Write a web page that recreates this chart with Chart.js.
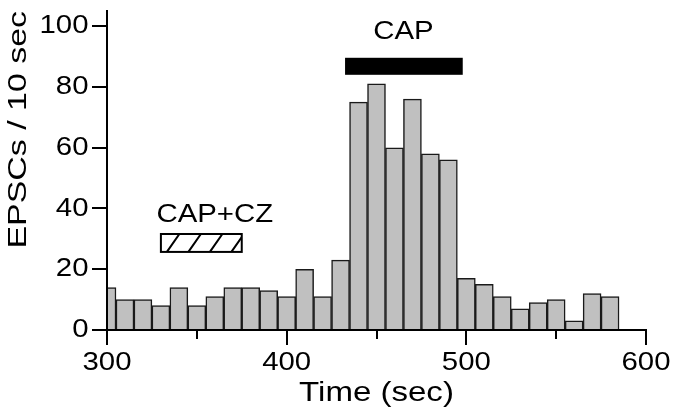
<!DOCTYPE html>
<html><head><meta charset="utf-8">
<script src="https://cdn.jsdelivr.net/npm/chart.js@4.4.1/dist/chart.umd.min.js"></script>
<style>html,body{margin:0;padding:0;background:#fff}canvas{display:block}</style>
</head><body>
<canvas id="c" width="675" height="413"></canvas>
<script>
// ---- data ----
const binCenters = [300,310,320,330,340,350,360,370,380,390,400,410,420,430,440,450,460,470,480,490,500,510,520,530,540,550,560,570,580];
const counts     = [14, 10, 10, 8, 14, 8, 11, 14, 14, 13, 11, 20, 11, 23, 75, 81, 60, 76, 58, 56, 17, 15, 11, 7, 9, 10, 3, 12, 11];
const xTickValues = [300,400,500,600];
const xMinorTickValues = [350,450,550];
const yTickValues = [0,20,40,60,80,100];
const xRange = [300,600];
const yRange = [0,105];
const capRange = [432.5, 498];      // CAP application (sec)
const capBarLevel = [84, 89.6];
const capczRange = [330, 375];      // CAP+CZ application (sec)
const capczBoxLevel = [25.7, 31.6];
const capLabel = {text: 'CAP', x: 465, y: 95.7};
const capczLabel = {text: 'CAP+CZ', x: 360, y: 35.6};

const FONT = "'Liberation Sans', Arial, Helvetica, sans-serif";
const INK = '#000';

// wide text rendering (the reference uses horizontally stretched type)
const canvas = document.getElementById('c');
const ctx = canvas.getContext('2d');
const K_BY_SIZE = {26: 1.13, 28: 1.18, 25.5: 1.33};
function kFor(font){ const m = /([\d.]+)px/.exec(font); return (m && K_BY_SIZE[parseFloat(m[1])]) || 1; }
const origFill = ctx.fillText.bind(ctx);
const origMeasure = ctx.measureText.bind(ctx);
ctx.fillText = function(t, x, y, mw){
  const k = kFor(this.font);
  this.save();
  this.translate(x, y);
  this.scale(k, 1);
  if (mw !== undefined) origFill(t, 0, 0, mw / k); else origFill(t, 0, 0);
  this.restore();
};
ctx.measureText = function(t){
  const m = origMeasure(t);
  const k = kFor(this.font);
  return {width: m.width * k, actualBoundingBoxAscent: m.actualBoundingBoxAscent, actualBoundingBoxDescent: m.actualBoundingBoxDescent,
          actualBoundingBoxLeft: m.actualBoundingBoxLeft * k, actualBoundingBoxRight: m.actualBoundingBoxRight * k,
          fontBoundingBoxAscent: m.fontBoundingBoxAscent, fontBoundingBoxDescent: m.fontBoundingBoxDescent};
};

const marksPlugin = {
  id: 'marks',
  afterDatasetsDraw(chart){
    const c = chart.ctx, x = chart.scales.x, y = chart.scales.y;
    c.save();
    // CAP bar
    let l = x.getPixelForValue(capRange[0]), r = x.getPixelForValue(capRange[1]);
    let t = y.getPixelForValue(capBarLevel[1]), b = y.getPixelForValue(capBarLevel[0]);
    c.fillStyle = INK;
    c.fillRect(l, t, r - l, b - t);
    // CAP+CZ hatched box
    l = x.getPixelForValue(capczRange[0]); r = x.getPixelForValue(capczRange[1]);
    t = y.getPixelForValue(capczBoxLevel[1]); b = y.getPixelForValue(capczBoxLevel[0]);
    c.save();
    c.beginPath(); c.rect(l, t, r - l, b - t); c.clip();
    c.fillStyle = '#fff'; c.fillRect(l, t, r - l, b - t);
    c.strokeStyle = INK; c.lineWidth = 2;
    c.beginPath();
    for (let i = 0; i < 4; i++) {
      const bx = l + 6 + i * 21.5;
      c.moveTo(bx, b); c.lineTo(bx + 12.5, t);
    }
    c.stroke();
    c.restore();
    c.strokeStyle = INK; c.lineWidth = 2;
    c.strokeRect(l, t, r - l, b - t);
    // labels
    c.fillStyle = INK;
    c.font = '26px ' + FONT;
    c.textAlign = 'center';
    c.textBaseline = 'alphabetic';
    c.fillText(capLabel.text, x.getPixelForValue(capLabel.x), y.getPixelForValue(capLabel.y));
    c.fillText(capczLabel.text, x.getPixelForValue(capczLabel.x), y.getPixelForValue(capczLabel.y));
    c.restore();
  },
  afterDraw(chart){
    // minor x ticks (shorter than the labelled ones)
    const c = chart.ctx, x = chart.scales.x;
    const base = Math.round(x.top);
    c.save();
    c.strokeStyle = INK; c.lineWidth = 2;
    c.beginPath();
    xMinorTickValues.forEach(v => {
      const px = Math.round(x.getPixelForValue(v));
      c.moveTo(px, base); c.lineTo(px, base + 9);
    });
    c.stroke();
    c.restore();
  }
};

new Chart(ctx, {
  type: 'bar',
  data: {
    datasets: [{
      data: binCenters.map((v, i) => ({x: v, y: counts[i]})),
      backgroundColor: '#c0c0c0',
      borderColor: '#1a1a1a',
      borderWidth: 1.5,
      borderSkipped: 'start',
      categoryPercentage: 1.0,
      barPercentage: 1.0,
      clip: {left: 0, right: 0, top: false, bottom: false}
    }]
  },
  options: {
    responsive: false,
    animation: false,
    events: [],
    layout: {padding: {top: 11, right: 29, bottom: 0, left: 0}},
    plugins: {legend: {display: false}, tooltip: {enabled: false}},
    scales: {
      x: {
        type: 'linear', position: 'bottom', offset: false,
        min: xRange[0], max: xRange[1],
        afterBuildTicks: s => { s.ticks = xTickValues.map(v => ({value: v})); },
        afterFit: s => { s.height = 83; s.paddingLeft = 0; s.paddingRight = 0; },
        grid: {display: true, drawOnChartArea: false, drawTicks: true, tickLength: 15, lineWidth: 2, color: INK, offset: false, z: 1},
        border: {display: true, color: INK, width: 2, z: 1},
        ticks: {color: INK, font: {family: FONT, size: 26}, padding: 2.2, maxRotation: 0, autoSkip: false, z: 1},
        title: {display: true, text: 'Time (sec)', color: INK, font: {family: FONT, size: 28}, padding: {top: 0, bottom: 2.6}}
      },
      y: {
        type: 'linear', position: 'left',
        min: yRange[0], max: yRange[1],
        afterBuildTicks: s => { s.ticks = yTickValues.map(v => ({value: v})); },
        afterFit: s => { s.width = 107; s.paddingTop = 0; s.paddingBottom = 0; },
        grid: {display: true, drawOnChartArea: false, drawTicks: true, tickLength: 15, lineWidth: 2, color: INK, z: 1},
        border: {display: true, color: INK, width: 2, z: 1},
        ticks: {color: INK, font: {family: FONT, size: 26}, padding: 3.5, z: 1},
        title: {display: true, text: 'EPSCs / 10 sec', align: 'end', color: INK, font: {family: FONT, size: 25.5}, padding: {top: 4, bottom: 0}}
      }
    }
  },
  plugins: [marksPlugin]
});
</script>
</body></html>
